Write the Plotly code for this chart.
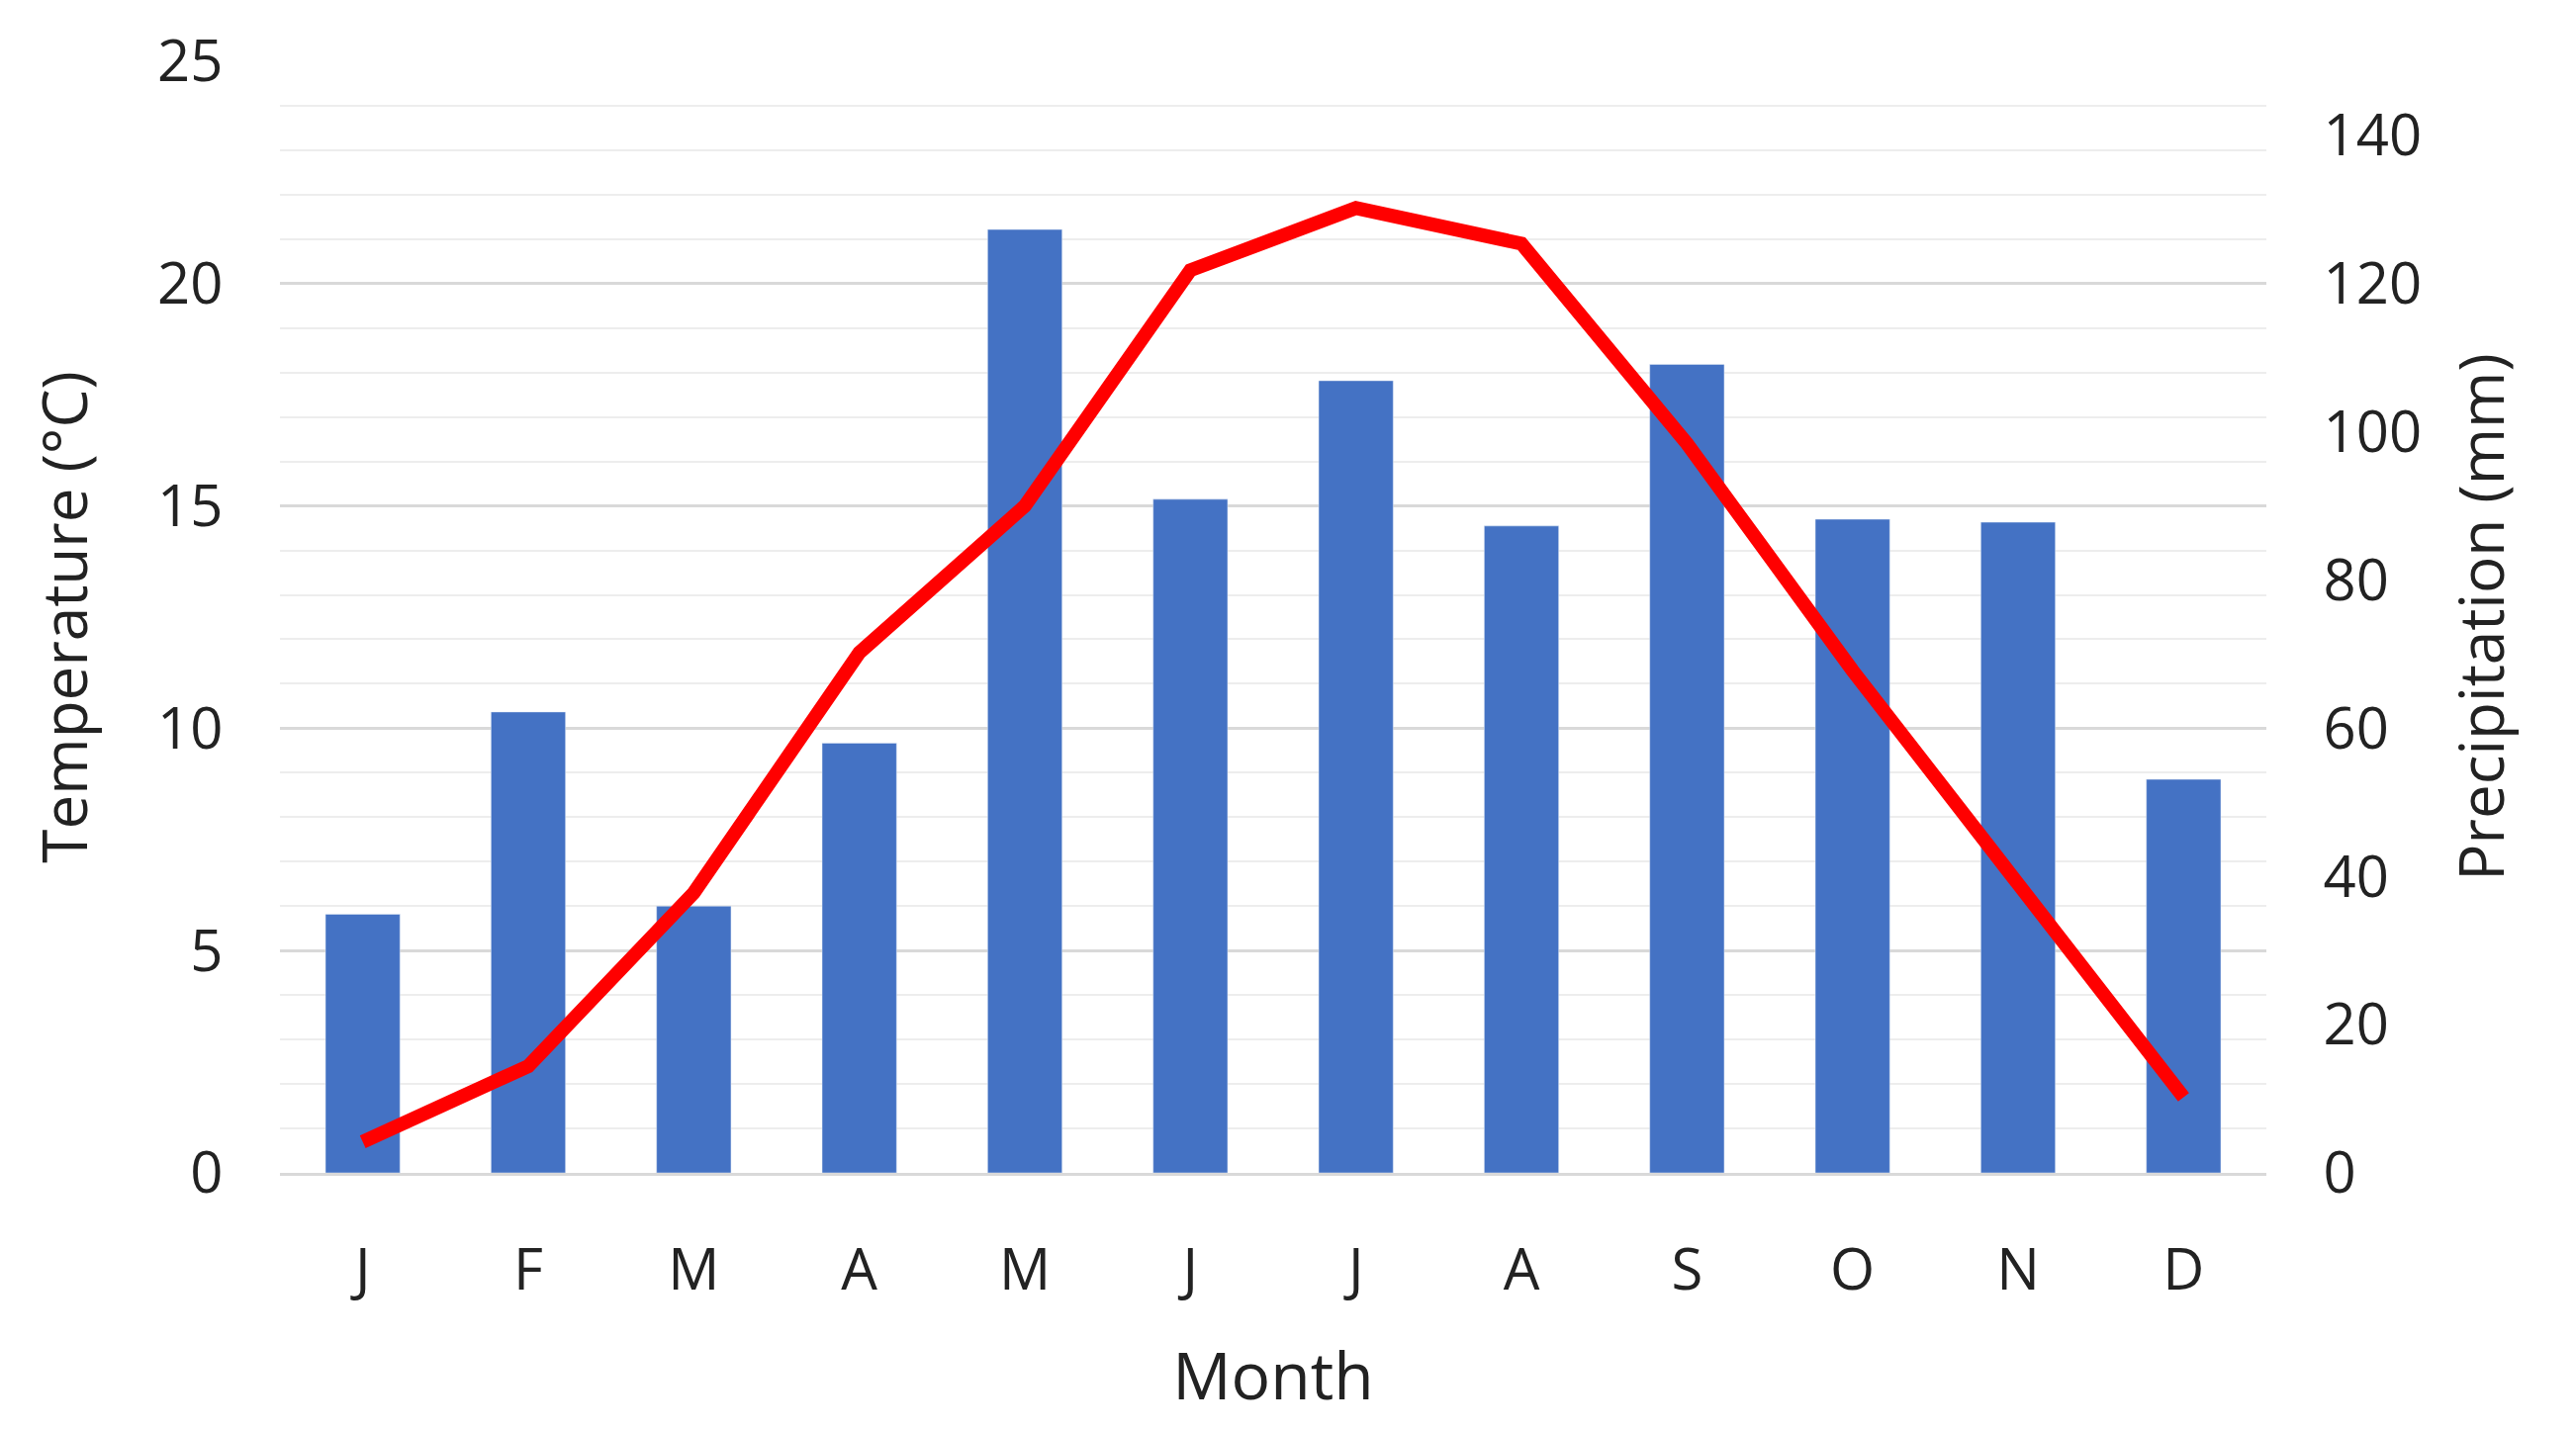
import plotly.graph_objects as go

months = ["J","F","M","A","M","J","J","A","S","O","N","D"]
precip_mm = [34.9, 62.2, 36.0, 58.0, 127.3, 90.9, 106.9, 87.3, 109.1, 88.2, 87.8, 53.1]
temp_c = [0.7, 2.4, 6.3, 11.7, 15.0, 20.3, 21.7, 20.9, 16.4, 11.3, 6.5, 1.7]

x = list(range(12))
fig = go.Figure()
fig.add_trace(go.Bar(x=x, y=precip_mm, yaxis="y", marker_color="#4472C4", width=0.45))
fig.add_trace(go.Scatter(x=x, y=temp_c, yaxis="y2", mode="lines",
                         line=dict(color="#FF0000", width=14)))
font = dict(family="Open Sans, DejaVu Sans", color="#222")
fig.update_layout(
    width=2604, height=1447, showlegend=False, plot_bgcolor="white", paper_bgcolor="white",
    margin=dict(l=275, r=321, t=50, b=269), font=dict(size=58, **font),
    xaxis=dict(tickmode="array", tickvals=x, ticktext=months, range=[-0.5, 11.5],
               title=dict(text="Month", font=dict(size=66), standoff=50), ticks="outside", ticklen=45,
               tickcolor="white", showline=True, linecolor="#D9D9D9", linewidth=3),
    yaxis2=dict(range=[0, 25], dtick=5, overlaying="y", side="left",
                title=dict(text="Temperature (°C)", font=dict(size=62), standoff=50),
                showgrid=False, zeroline=False,
                ticks="outside", tickcolor="white", ticklen=45),
    yaxis=dict(range=[0, 150], side="right",
               title=dict(text="Precipitation (mm)", font=dict(size=62), standoff=40),
               tickvals=[0,20,40,60,80,100,120,140],
               ticks="outside", tickcolor="white", ticklen=45, zeroline=False,
               showgrid=False),
)
# Gridlines follow the temperature axis (major every 5 °C, minor every 1 °C) via a hidden axis
fig.update_layout(yaxis3=dict(range=[0, 25], dtick=5, overlaying="y", showticklabels=False,
                              gridcolor="#D9D9D9", gridwidth=3, zeroline=False,
                              minor=dict(dtick=1, showgrid=True, gridcolor="#EDEDED", gridwidth=2)))
fig.add_trace(go.Scatter(x=[0], y=[0], yaxis="y3", mode="markers", marker=dict(opacity=0),
                         hoverinfo="skip"))
fig.update_layout(yaxis=dict(layer="above traces"))
fig.write_html("out.html")
